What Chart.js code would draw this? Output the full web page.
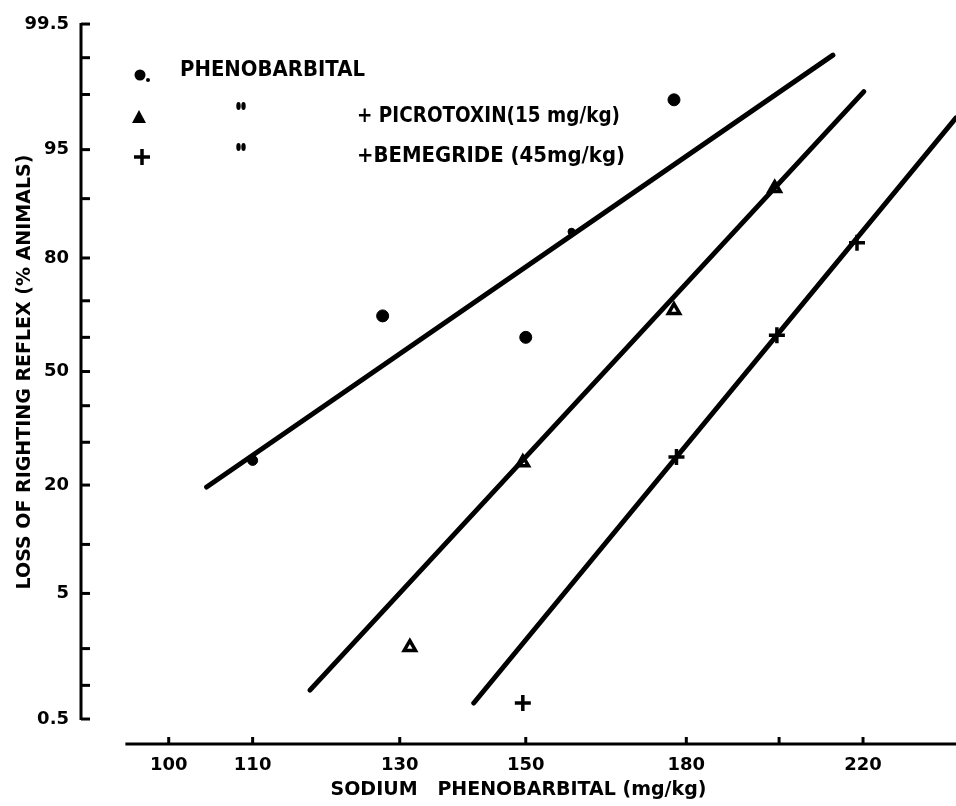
<!DOCTYPE html>
<html>
<head>
<meta charset="utf-8">
<title>Loss of righting reflex</title>
<script src="https://cdn.jsdelivr.net/npm/chart.js@4"></script>
<style>
  html, body { margin: 0; padding: 0; background: #fff; overflow: hidden; }
  #wrap { width: 956px; height: 806px; position: relative; }
</style>
</head>
<body>
<div id="wrap"><canvas id="probitChart"></canvas></div>
<script>
/* ================= DATA ================= */
// dose in mg/kg, response in % animals
const phenoDose = [110, 127.5, 150, 158, 177.5];
const phenoPct  = [25.5, 66, 60, 85, 97.8];

const picroDose = [131.5, 149.5, 177.5, 199];
const picroPct  = [2.05, 25, 67.5, 91.3];

const bemeDose = [149.5, 178, 199.5, 218.5];
const bemePct  = [0.7, 26.3, 60.6, 83];

// fitted dose-response lines (end points)
const phenoLineDose = [104.4, 212.6];
const phenoLinePct  = [19.6, 99.05];
const picroLineDose = [117.4, 220.2];
const picroLinePct  = [0.91, 98.1];
const bemeLineDose  = [141.4, 244.5];
const bemeLinePct   = [0.7, 97.0];

// axis ticks
const xTicks  = [100, 110, 130, 150, 180, 200, 220];
const xLabels = ["100", "110", "130", "150", "180", "", "220"];
const yTicks  = [0.5, 1, 2, 5, 10, 20, 30, 40, 50, 60, 70, 80, 90, 95, 98, 99, 99.5];
const yLabels = ["0.5", "", "", "5", "", "20", "", "", "50", "", "", "80", "", "95", "", "", "99.5"];

const FONT = "'DejaVu Sans', sans-serif";

/* ================= PROBIT ================= */
// inverse normal cdf (Acklam)
function normInv(p) {
  const a = [-3.969683028665376e+01, 2.209460984245205e+02, -2.759285104469687e+02,
             1.383577518672690e+02, -3.066479806614716e+01, 2.506628277459239e+00];
  const b = [-5.447609879822406e+01, 1.615858368580409e+02, -1.556989798598866e+02,
             6.680131188771972e+01, -1.328068155288572e+01];
  const c = [-7.784894002430293e-03, -3.223964580411365e-01, -2.400758277161838e+00,
             -2.549671010243700e+00, 4.374664141464968e+00, 2.938163982698783e+00];
  const d = [7.784695709041462e-03, 3.224671290700398e-01, 2.445134137142996e+00,
             3.754408661907416e+00];
  const plow = 0.02425;
  let q, r;
  if (p < plow) {
    q = Math.sqrt(-2 * Math.log(p));
    return (((((c[0]*q+c[1])*q+c[2])*q+c[3])*q+c[4])*q+c[5]) / ((((d[0]*q+d[1])*q+d[2])*q+d[3])*q+1);
  }
  if (p > 1 - plow) {
    q = Math.sqrt(-2 * Math.log(1 - p));
    return -(((((c[0]*q+c[1])*q+c[2])*q+c[3])*q+c[4])*q+c[5]) / ((((d[0]*q+d[1])*q+d[2])*q+d[3])*q+1);
  }
  q = p - 0.5; r = q * q;
  return (((((a[0]*r+a[1])*r+a[2])*r+a[3])*r+a[4])*r+a[5])*q / (((((b[0]*r+b[1])*r+b[2])*r+b[3])*r+b[4])*r+1);
}

function probit(pct) {
  return normInv(pct / 100);
}

function toPoints(doses, pcts) {
  return doses.map((d, i) => ({ x: d, y: probit(pcts[i]) }));
}

/* ================= HELPERS ================= */
// draw text squeezed/stretched to a given width
function fitText(ctx, text, x, y, width, size) {
  ctx.save();
  ctx.font = "bold " + size + "px " + FONT;
  ctx.textBaseline = "middle";
  ctx.textAlign = "left";
  const w = ctx.measureText(text).width;
  ctx.translate(x, y);
  ctx.scale(width / w, 1);
  ctx.fillText(text, 0, 0);
  ctx.restore();
}

/* ================= AXES + KEY ================= */
const probitAxes = {
  id: "probitAxes",
  beforeDraw(chart) {
    const ctx = chart.ctx;
    ctx.save();
    ctx.fillStyle = "#fff";
    ctx.fillRect(0, 0, chart.width, chart.height);
    ctx.restore();
  },
  afterDraw(chart) {
    const ctx = chart.ctx;
    const xs = chart.scales.x;
    const ys = chart.scales.y;
    const area = chart.chartArea;

    ctx.save();
    ctx.strokeStyle = "#000";
    ctx.lineWidth = 3;
    ctx.lineCap = "butt";

    // y axis with inward ticks
    const left = area.left;
    const yTop = ys.getPixelForValue(probit(99.5));
    const yBot = ys.getPixelForValue(probit(0.5));
    ctx.beginPath();
    ctx.moveTo(left, yTop - 1);
    ctx.lineTo(left, yBot + 1);
    ctx.stroke();
    yTicks.forEach(p => {
      const y = ys.getPixelForValue(probit(p));
      ctx.beginPath();
      ctx.moveTo(left, y);
      ctx.lineTo(left + 9, y);
      ctx.stroke();
    });

    // x axis with upward ticks
    const yAx = area.bottom;
    ctx.beginPath();
    ctx.moveTo(xs.getPixelForValue(95.2), yAx);
    ctx.lineTo(area.right, yAx);
    ctx.stroke();
    xTicks.forEach(v => {
      const x = xs.getPixelForValue(v);
      ctx.beginPath();
      ctx.moveTo(x, yAx);
      ctx.lineTo(x, yAx - 7);
      ctx.stroke();
    });

    // key
    ctx.fillStyle = "#000";
    ctx.beginPath();
    ctx.arc(140, 75, 5.5, 0, Math.PI * 2);
    ctx.fill();
    ctx.beginPath();
    ctx.arc(148, 80, 2, 0, Math.PI * 2);
    ctx.fill();

    ctx.beginPath();
    ctx.moveTo(139, 110);
    ctx.lineTo(146, 123);
    ctx.lineTo(132, 123);
    ctx.closePath();
    ctx.fill();

    ctx.lineWidth = 3.5;
    ctx.beginPath();
    ctx.moveTo(134, 157);
    ctx.lineTo(150, 157);
    ctx.moveTo(142, 149);
    ctx.lineTo(142, 165);
    ctx.stroke();

    // ditto marks
    [[241, 106], [241, 147]].forEach(([x, y]) => {
      ctx.beginPath();
      ctx.ellipse(x - 2.5, y, 2.2, 4, 0, 0, Math.PI * 2);
      ctx.ellipse(x + 2.5, y, 2.2, 4, 0, 0, Math.PI * 2);
      ctx.fill();
    });

    fitText(ctx, "PHENOBARBITAL", 180, 71, 185, 21);
    fitText(ctx, "+ PICROTOXIN(15 mg/kg)", 357, 117, 263, 21);
    fitText(ctx, "+BEMEGRIDE (45mg/kg)", 357, 157, 268, 21);

    ctx.restore();
  }
};

/* ================= CHART ================= */
const lineStyle = {
  type: "line",
  borderColor: "#000",
  borderWidth: 5,
  borderCapStyle: "round",
  pointRadius: 0,
  fill: false
};

new Chart(document.getElementById("probitChart"), {
  type: "scatter",
  data: {
    datasets: [
      { ...lineStyle, label: "Phenobarbital fit", data: toPoints(phenoLineDose, phenoLinePct) },
      { ...lineStyle, label: "Picrotoxin fit", data: toPoints(picroLineDose, picroLinePct) },
      { ...lineStyle, label: "Bemegride fit", data: toPoints(bemeLineDose, bemeLinePct) },
      {
        label: "Phenobarbital",
        data: toPoints(phenoDose, phenoPct),
        pointStyle: "circle",
        pointRadius: [5, 6, 6, 3.5, 6],
        backgroundColor: "#000",
        borderColor: "#000",
        borderWidth: 1
      },
      {
        label: "+ Picrotoxin (15 mg/kg)",
        data: toPoints(picroDose, picroPct),
        pointStyle: "triangle",
        pointRadius: 6.5,
        backgroundColor: "#fff",
        borderColor: "#000",
        borderWidth: 3.5
      },
      {
        label: "+ Bemegride (45 mg/kg)",
        data: toPoints(bemeDose, bemePct),
        pointStyle: "cross",
        pointRadius: 8,
        borderColor: "#000",
        borderWidth: 3.5
      }
    ]
  },
  options: {
    responsive: true,
    maintainAspectRatio: false,
    animation: false,
    layout: { padding: 0, autoPadding: false },
    plugins: {
      legend: { display: false },
      tooltip: { enabled: false }
    },
    scales: {
      x: {
        type: "logarithmic",
        min: 90.52,
        max: 244.5,
        grid: { display: false },
        border: { display: false },
        afterBuildTicks: scale => {
          scale.ticks = xTicks.map(v => ({ value: v }));
        },
        afterFit: scale => {
          scale.height = 62;
          scale.paddingLeft = 0;
          scale.paddingRight = 0;
        },
        ticks: {
          autoSkip: false,
          maxRotation: 0,
          padding: 3,
          color: "#000",
          font: { family: FONT, size: 18, weight: "bold" },
          callback: (value, index) => xLabels[index]
        },
        title: {
          display: true,
          text: "SODIUM   PHENOBARBITAL (mg/kg)",
          color: "#000",
          font: { family: FONT, size: 19, weight: "bold" },
          padding: { top: 0, bottom: 5 }
        }
      },
      y: {
        type: "linear",
        min: -2.761,
        max: 2.754,
        grid: { display: false },
        border: { display: false },
        afterBuildTicks: scale => {
          scale.ticks = yTicks.map(p => ({ value: probit(p) }));
        },
        afterFit: scale => {
          scale.width = 81;
          scale.paddingTop = 0;
          scale.paddingBottom = 0;
        },
        ticks: {
          autoSkip: false,
          padding: 4,
          color: "#000",
          font: { family: FONT, size: 18, weight: "bold" },
          callback: (value, index) => yLabels[index]
        },
        title: {
          display: true,
          text: "LOSS OF RIGHTING REFLEX (% ANIMALS)",
          color: "#000",
          font: { family: FONT, size: 19, weight: "bold" },
          padding: { top: 14, bottom: 0 }
        }
      }
    }
  },
  plugins: [probitAxes]
});
</script>
</body>
</html>
